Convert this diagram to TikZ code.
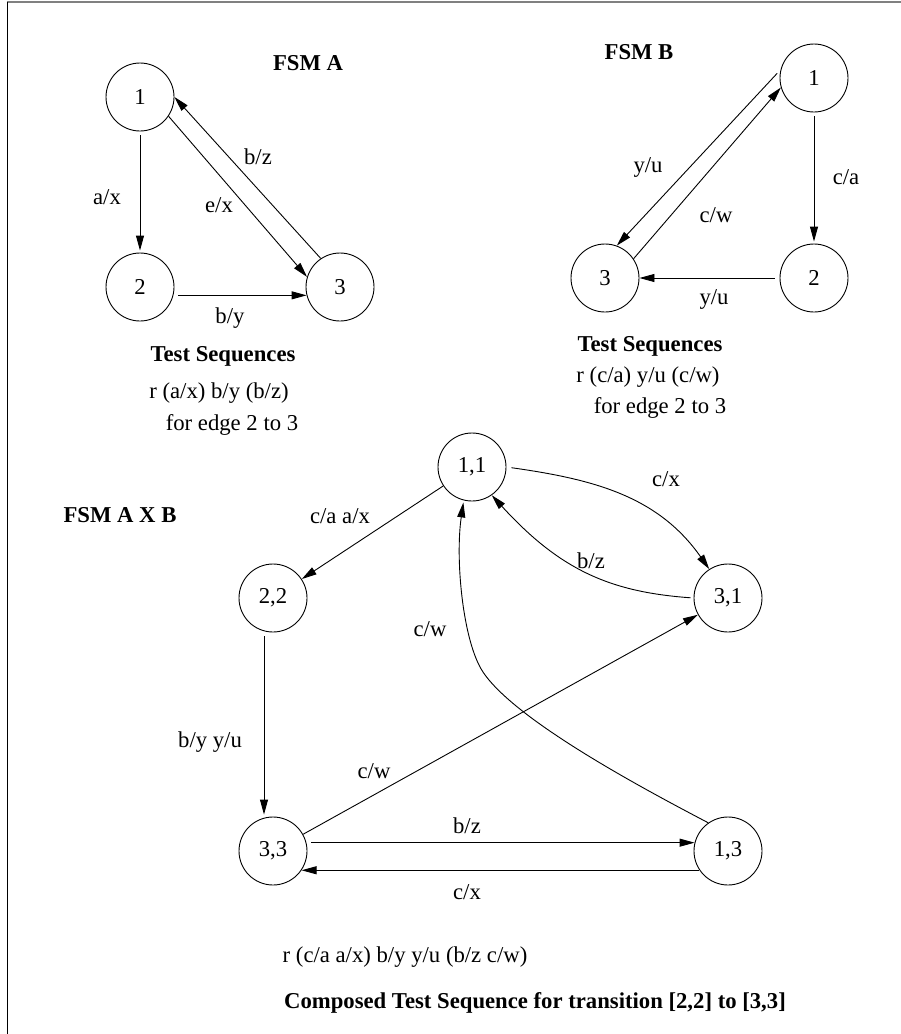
\documentclass[tikz,border=0pt]{standalone}
\usepackage{fontspec}
\setmainfont{Liberation Serif}
\usetikzlibrary{arrows.meta}

\begin{document}
\begin{tikzpicture}[x=1pt,y=-1pt,>={Triangle[length=15pt,width=8pt]},
	font=\fontsize{22.7}{27}\selectfont, line width=0.9pt,
	state/.style={circle,draw,minimum size=68pt,inner sep=0pt},
	lbl/.style={inner sep=0pt},
	title/.style={inner sep=0pt,font=\fontsize{22.7}{27}\selectfont\bfseries}]
	\useasboundingbox (0,0) rectangle (901,1034);
	% frame: top and left edge only
	\draw[gray,line width=1.6pt] (7,2) -- (901,2);
	\draw (7,2) -- (7,1034);

	% machine A
	\node[title] (titleA) at (308,63) {FSM A};
	\node[state] (A1) at (140,97) {1};
	\node[state] (A2) at (140,287) {2};
	\node[state] (A3) at (340,287) {3};
	\draw[->,shorten <=4pt,shorten >=2pt] (A1) -- (A2);
	\draw[->,shorten <=5pt] (A2.-14) -- (A3.194);
	\draw[->] (A1.-34) -- (A3.163);
	\draw[->] (A3.124) -- (A1.0);
	\node[lbl] (ax) at (107,197) {a/x};
	\node[lbl] (ex) at (219,205) {e/x};
	\node[lbl] (bzA) at (258,157) {b/z};
	\node[lbl] (byA) at (230,318) {b/y};
	\node[title] (testA) at (223,356) {Test Sequences};
	\node[lbl] (seqA) at (219,393) {r (a/x) b/y (b/z)};
	\node[lbl] (edgeA) at (232,425) {for edge 2 to 3};

	% machine B
	\node[title] (titleB) at (639,52) {FSM B};
	\node[state] (B1) at (814,78) {1};
	\node[state] (B2) at (814,278) {2};
	\node[state] (B3) at (605,278) {3};
	\draw[->,shorten <=4pt,shorten >=2pt] (B1) -- (B2);
	\draw[->,shorten <=5pt] (B2) -- (B3);
	\draw[->,shorten <=5pt] (B1.166) -- (B3.70);
	\draw[->] (B3.34) -- (B1.196);
	\node[lbl] (yuB) at (648,167) {y/u};
	\node[lbl] (cwB) at (716,215) {c/w};
	\node[lbl] (ca) at (846,177) {c/a};
	\node[lbl] (yuB2) at (714,299) {y/u};
	\node[title] (testB) at (650,346) {Test Sequences};
	\node[lbl] (seqB) at (648,377) {r (c/a) y/u (c/w)};
	\node[lbl] (edgeB) at (660,408) {for edge 2 to 3};

	% product machine
	\node[title] (titleAB) at (120,515) {FSM A X B};
	\node[state] (N11) at (472,467) {1,1};
	\node[state] (N22) at (273,598) {2,2};
	\node[state] (N31) at (728,598) {3,1};
	\node[state] (N33) at (273,851) {3,3};
	\node[state] (N13) at (728,851) {1,3};
	\draw[->] (N11) -- (N22);
	\draw[->,shorten <=4pt,shorten >=2pt] ([xshift=-9pt]N22.south) -- ([xshift=-9pt]N33.north);
	\draw[->] (N33) -- (N31);
	\draw[->,shorten <=5pt] (N33.14) -- (N13.166);
	\draw[->] (N13.214) -- (N33.326);
	\draw[->,shorten <=5pt] (N11.east) to[out=-8,in=125] (N31.123);
	\draw[->,shorten <=3pt] (N31.west) .. controls (610,592) and (560,570) .. (N11.-55);
	\draw[->,shorten >=2pt] (N13.125) .. controls (640,787) and (515,720) .. (483,672)
		.. controls (463,642) and (455,560) .. (N11.-104);
	\node[lbl] (caax) at (340,516) {c/a a/x};
	\node[lbl] (byyu) at (210,742) {b/y y/u};
	\node[lbl] (cw1) at (430,629) {c/w};
	\node[lbl] (cw2) at (374,771) {c/w};
	\node[lbl] (cx1) at (666,479) {c/x};
	\node[lbl] (bz1) at (591,561) {b/z};
	\node[lbl] (bz2) at (467,826) {b/z};
	\node[lbl] (cx2) at (467,892) {c/x};
	\node[lbl] (seqAB) at (405,957) {r (c/a a/x) b/y y/u (b/z c/w)};
	\node[title] (testAB) at (535,1003) {Composed Test Sequence for transition [2,2] to [3,3]};
\end{tikzpicture}
\end{document}
